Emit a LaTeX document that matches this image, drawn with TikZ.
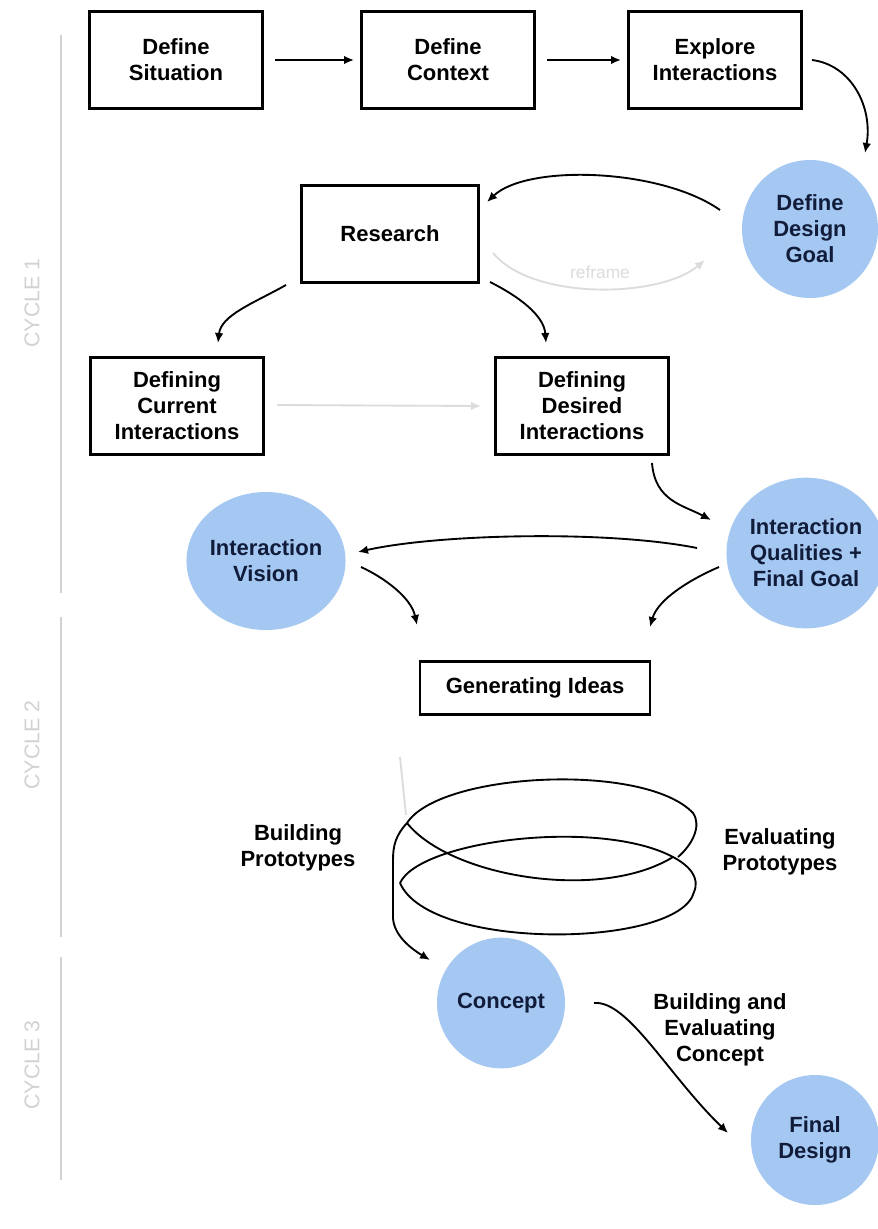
\documentclass[tikz,border=0pt]{standalone}
\usepackage{fontspec}
\setmainfont{Liberation Sans}
\usetikzlibrary{shapes.geometric,arrows.meta,calc}
\definecolor{bubblefill}{HTML}{A5C8F2}
\definecolor{ink}{HTML}{111C3A}
\definecolor{faint}{HTML}{DCDCDC}
\definecolor{cyclegray}{HTML}{D2D2D2}
\begin{document}
\begin{tikzpicture}[x=0.75pt,y=-0.75pt,
  txt/.style={font=\fontsize{16.5}{19.5}\selectfont\bfseries, align=center},
  stepbox/.style={txt, draw=black, line width=2pt, minimum width=130pt, minimum height=72.5pt, inner sep=0pt},
  bubble/.style={txt, ellipse, fill=bubblefill, text=ink, inner sep=0pt},
  flow/.style={line width=1.4pt, -{Latex[length=7.5pt,width=6.5pt]}},
  faintflow/.style={line width=1.4pt, draw=faint, -{Latex[length=7.5pt,width=6.5pt]}},
  cyc/.style={font=\fontsize{16}{16}\selectfont, text=cyclegray, rotate=90},
  coil/.style={line width=1.4pt},
]
\useasboundingbox (0,0) rectangle (878,1229);
\fill[white] (0,0) rectangle (878,1229);

% cycle markers on the left
\draw[cyclegray, line width=2.2pt] (61,35) -- (61,593);
\draw[cyclegray, line width=2.2pt] (61,617) -- (61,937);
\draw[cyclegray, line width=2.2pt] (61,957) -- (61,1180);
\node[cyc] (c1) at (32,303) {CYCLE 1};
\node[cyc] (c2) at (32,745) {CYCLE 2};
\node[cyc] (c3) at (32,1065) {CYCLE 3};

% process steps
\node[stepbox] (sit) at (176,60) {Define\\Situation};
\node[stepbox] (ctx) at (448,60) {Define\\Context};
\node[stepbox] (expl) at (715,60) {Explore\\Interactions};
\node[stepbox, minimum width=132.5pt] (research) at (390,234) {Research};
\node[stepbox] (cur) at (177,406) {Defining\\Current\\Interactions};
\node[stepbox] (des) at (582,406) {Defining\\Desired\\Interactions};
\node[stepbox, minimum width=172.5pt, minimum height=40pt] (gen) at (535,688) {Generating Ideas};

% outcomes
\node[bubble, minimum width=102pt, minimum height=103.5pt] (goal) at (810,229) {Define\\Design\\Goal};
\node[bubble, minimum width=110pt, minimum height=113pt] (qual) at (806,553) {Interaction\\Qualities +\\Final Goal};
\node[bubble, minimum width=96pt, minimum height=103.5pt] (vision) at (266,561) {Interaction\\Vision};
\node[bubble, minimum width=96pt, minimum height=98pt] (concept) at (501,1003) {Concept};
\node[bubble, minimum width=96pt, minimum height=97.5pt] (final) at (815,1140) {Final\\Design};

% free labels
\node[txt] (build) at (298,848) {Building\\Prototypes};
\node[txt] (eval) at (780,852) {Evaluating\\Prototypes};
\node[txt] (bec) at (720,1030) {Building and\\Evaluating\\Concept};

% connectors
\draw[flow] ($(sit.east)+(11,0)$) -- ($(ctx.west)+(-6,0)$);
\draw[flow] ($(ctx.east)+(11,0)$) -- ($(expl.west)+(-6,0)$);
\draw[flow] ($(expl.center)+(97,0)$) .. controls +(40,5) and +(8,-45) .. ($(goal.center)+(55,-76)$);
\draw[flow] ($(goal.center)+(-90,-19)$) .. controls +(-60,-42) and +(40,-38) .. ($(research.center)+(97,-32)$);
\draw[faintflow] ($(research.center)+(103,19)$) .. controls +(40,48) and +(-45,38) .. ($(goal.center)+(-105,31)$);
\node[font=\fontsize{13}{13}\selectfont, text=faint] (reframe) at (600,272) {reframe};
\draw[flow] ($(research.center)+(-104,51)$) .. controls +(-32,18) and +(3,-28) .. ($(cur.center)+(41,-63)$);
\draw[flow] ($(research.center)+(100,48)$) .. controls +(28,14) and +(-2,-28) .. ($(des.center)+(-36,-63)$);
\draw[faintflow] ($(cur.center)+(100,-1)$) -- ($(des.center)+(-101,0)$);
\draw[flow] ($(des.center)+(70,57)$) .. controls +(3,38) and +(-28,-15) .. ($(qual.center)+(-95,-33)$);
\draw[flow] ($(qual.center)+(-109,-5)$) .. controls +(-90,-18) and +(80,-18) .. ($(vision.center)+(92,-9)$);
\draw[flow] ($(vision.center)+(95,6)$) .. controls +(22,10) and +(-6,-28) .. ($(gen.center)+(-118,-63)$);
\draw[flow] ($(qual.center)+(-87,14)$) .. controls +(-28,12) and +(8,-28) .. ($(gen.center)+(115,-61)$);
\draw[flow] ($(concept.center)+(93,0)$) .. controls +(34,-3) and +(-60,-58) .. ($(final.center)+(-87,-7)$);

% prototyping coil between ideas and concept
\draw[faint, line width=1.4pt] (400,757) -- (406,815);
\draw[coil] (407,823) .. controls (440,772) and (645,762) .. (693,813)
  .. controls (702,826) and (692,845) .. (678,857);
\draw[coil] (407,823) .. controls (450,877) and (600,902) .. (673,857);
\draw[coil] (400,883) .. controls (420,840) and (600,818) .. (673,857)
  .. controls (690,866) and (700,878) .. (694,892)
  .. controls (680,948) and (430,952) .. (400,883);
\draw[flow] (407,823) .. controls (396,835) and (393,845) .. (393,860) -- (393,918)
  .. controls (394,935) and (410,948) .. ($(concept.center)+(-71,-43)$);
\end{tikzpicture}
\end{document}
